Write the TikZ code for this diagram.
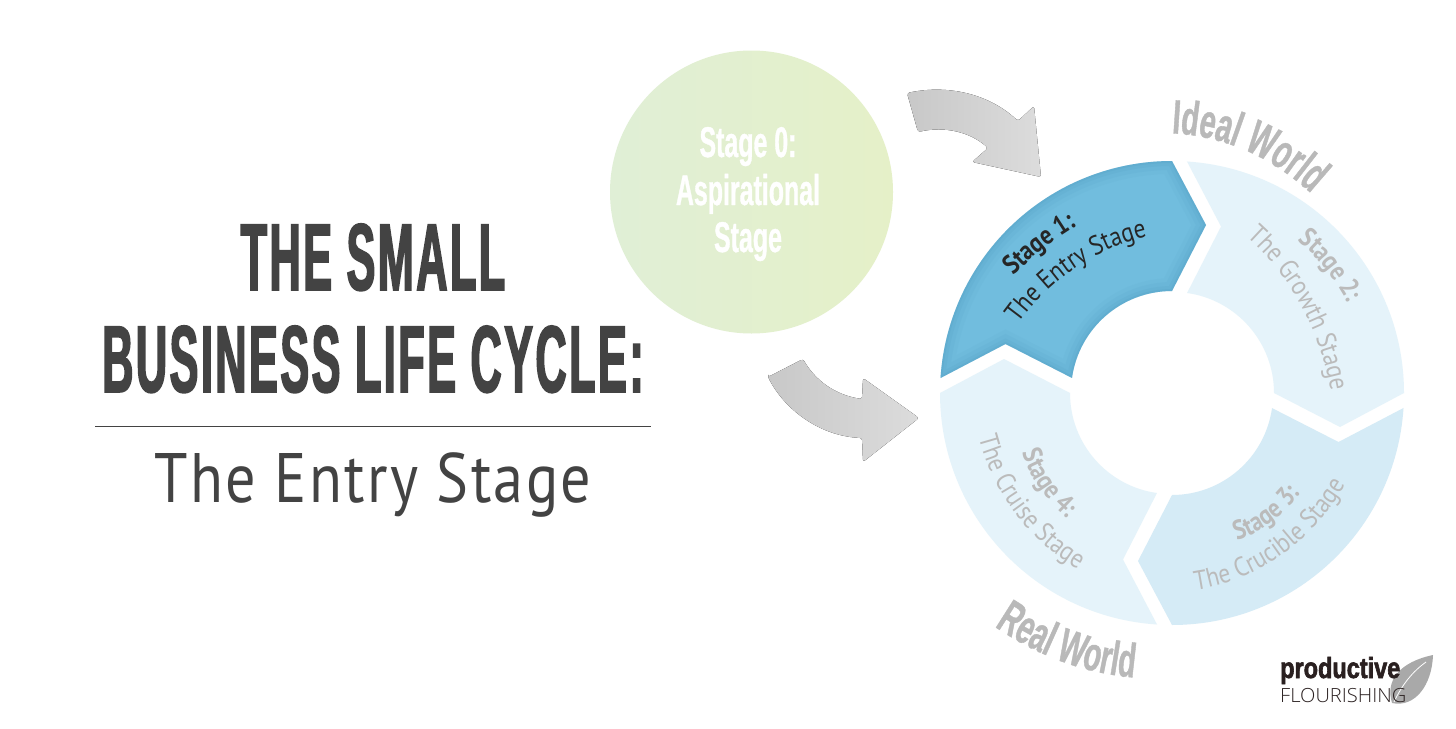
\documentclass[tikz,border=0pt]{standalone}
\usepackage{fontspec}
\usetikzlibrary{decorations.text}
\newfontfamily\titlef[FakeStretch=0.455,FakeBold=1.6,LetterSpace=2.6]{Liberation Sans Bold}
\newfontfamily\gothf[FakeStretch=0.58,FakeBold=.8]{Liberation Sans Bold}
\newfontfamily\worldf[FakeStretch=0.6,FakeBold=.8]{Liberation Sans Bold}
\newfontfamily\subf[LetterSpace=3.4,FakeStretch=0.86]{PT Sans}
\newfontfamily\stagef[FakeStretch=0.87]{PT Sans}
\newfontfamily\stageb[FakeStretch=0.85]{PT Sans Bold}
\newfontfamily\prodf[FakeStretch=0.81,FakeBold=2]{Liberation Sans Bold}
\newfontfamily\flourf[FakeStretch=1.03]{Open Sans Light}
\definecolor{ink}{HTML}{434343}
\definecolor{dim}{HTML}{BBBBBB}
\definecolor{worldgray}{HTML}{B9B9B9}
\definecolor{blueon}{HTML}{71BDDE}
\definecolor{blueedge}{HTML}{3F8FB5}
\definecolor{paleblue}{HTML}{E5F3FA}
\definecolor{midblue}{HTML}{D5EBF6}
\definecolor{darkon}{HTML}{262626}
\definecolor{circL}{HTML}{E0EFD6}
\definecolor{circR}{HTML}{E5F0C8}
\definecolor{arrL}{HTML}{C8C8C8}
\definecolor{arrR}{HTML}{DCDCDC}
\definecolor{logoink}{HTML}{2A2020}
\definecolor{leaf}{HTML}{A9A9A9}
\newcommand{\stagesh}{(176.3:232) arc[start angle=176.3,end angle=90,radius=232] -- (34,168) -- (0,102) arc[start angle=90,end angle=172,radius=101] -- (-166.5,49) -- cycle}
\newcommand{\fmtBon}{\stageb\fontsize{27}{27}\selectfont\color{darkon}}
\newcommand{\fmtRon}{\stagef\fontsize{27}{27}\selectfont\color{darkon}}
\newcommand{\fmtB}{\stageb\fontsize{27}{27}\selectfont\color{dim}}
\newcommand{\fmtR}{\stagef\fontsize{27}{27}\selectfont\color{dim}}
\newcommand{\fmtW}{\worldf\fontsize{48}{48}\selectfont\color{worldgray}}
\tikzset{
  curved/.style={decorate,decoration={text along path,text align=center,text={#1}}},
  bigarrow/.style={left color=arrL,right color=arrR,draw=none,rounded corners=2.5pt},
}
\begin{document}
\begin{tikzpicture}[x=1pt,y=1pt]
\useasboundingbox (0,0) rectangle (1456,-728);
\fill[white] (0,0) rectangle (1456,-728);
% title
\node[anchor=base,text=ink,inner sep=0pt,font=\titlef\fontsize{95}{95}\selectfont] (t1) at (373,-290) {THE SMALL};
\node[anchor=base,text=ink,inner sep=0pt,font=\titlef\fontsize{95}{95}\selectfont] (t2) at (373,-392) {BUSINESS LIFE CYCLE:};
\coordinate (ruleL) at (95,-426.5);
\coordinate (ruleR) at (651,-426.5);
\draw[ink,line width=1pt] (ruleL) -- (ruleR);
\node[anchor=base,text=ink,inner sep=0pt,font=\subf\fontsize{70}{70}\selectfont] (t3) at (373,-502) {The Entry Stage};
% stage 0
\node[circle,minimum size=283pt,inner sep=0pt,left color=circL,right color=circR,draw=none] (s0) at (751.5,-192) {};
\node[anchor=base,text=white,inner sep=0pt,font=\gothf\fontsize{43}{43}\selectfont] (s0a) at (748,-157) {Stage 0:};
\node[anchor=base,text=white,inner sep=0pt,font=\gothf\fontsize{43}{43}\selectfont] (s0b) at (748,-205) {Aspirational};
\node[anchor=base,text=white,inner sep=0pt,font=\gothf\fontsize{43}{43}\selectfont] (s0c) at (748,-252) {Stage};
% arrows
\fill[bigarrow] (907,-93) .. controls (950,-84) and (990,-95) .. (1018,-121) -- (1034,-106) -- (1041,-177) -- (972,-162) -- (988,-148) .. controls (970,-132) and (945,-126) .. (918,-132) -- cycle;
\fill[bigarrow] (768,-377) -- (803,-359) .. controls (815,-380) and (835,-395) .. (862,-399) -- (863,-378) -- (919,-418) -- (863,-462) -- (862,-438) .. controls (820,-436) and (785,-410) .. (768,-377) -- cycle;
% ring
\begin{scope}[shift={(1172,-393)}]
  \begin{scope}
    \fill[blueon] \stagesh;
    \clip \stagesh;
    \foreach \w/\o in {26/.05,18/.07,10/.09,4/.12}{\draw[blueedge,line width=\w pt,opacity=\o] \stagesh;}
  \end{scope}
  \fill[paleblue,rotate=-90] \stagesh;
  \fill[midblue,rotate=-180] \stagesh;
  \fill[paleblue,rotate=-270] \stagesh;
\end{scope}
% stage labels
\path[curved={|\fmtBon|Stage 1:}] (1012,-277) .. controls (1033,-256) and (1055,-238) .. (1078,-225);
\path[curved={|\fmtRon|The Entry Stage}] (1017,-325) .. controls (1045,-285) and (1090,-250) .. (1149,-236);
\path[curved={|\fmtB|Stage 2:}] (1294,-238) .. controls (1320,-257) and (1335,-280) .. (1350,-307);
\path[curved={|\fmtR|The Growth Stage}] (1246,-236) .. controls (1290,-275) and (1320,-330) .. (1331,-392);
\path[curved={|\fmtB|Stage 3:}] (1230,-542) .. controls (1260,-535) and (1284,-516) .. (1305,-488);
\path[curved={|\fmtR|The Crucible Stage}] (1186,-591) .. controls (1256,-585) and (1316,-540) .. (1350,-476);
\path[curved={|\fmtB|Stage 4:}] (1021,-450) .. controls (1030,-477) and (1045,-500) .. (1070,-520);
\path[curved={|\fmtR|The Cruise Stage}] (977,-430) .. controls (990,-490) and (1030,-545) .. (1085,-573);
% world labels
\path[curved={|\fmtW|Ideal World}] (1161,-133) .. controls (1218,-133) and (1273,-155) .. (1319,-201);
\path[curved={|\fmtW|Real World}] (988,-622) .. controls (1035,-655) and (1085,-675) .. (1142,-678);
% logo
\fill[leaf] (1392,-703) .. controls (1385,-680) and (1400,-662) .. (1433,-655) .. controls (1432,-685) and (1415,-708) .. (1392,-703) -- cycle;
\coordinate (veinA) at (1394,-702);
\coordinate (veinB) at (1426,-662);
\draw[white,line width=.8pt] (veinA) .. controls (1402,-685) and (1412,-672) .. (veinB);
\node[anchor=base west,inner sep=0pt,text=logoink,font=\prodf\fontsize{29}{29}\selectfont] (pf) at (1280,-678) {productive};
\node[anchor=base west,inner sep=0pt,text=logoink,font=\flourf\fontsize{19.5}{19.5}\selectfont] (fl) at (1280,-702) {FLOURISHING};
\end{tikzpicture}
\end{document}
